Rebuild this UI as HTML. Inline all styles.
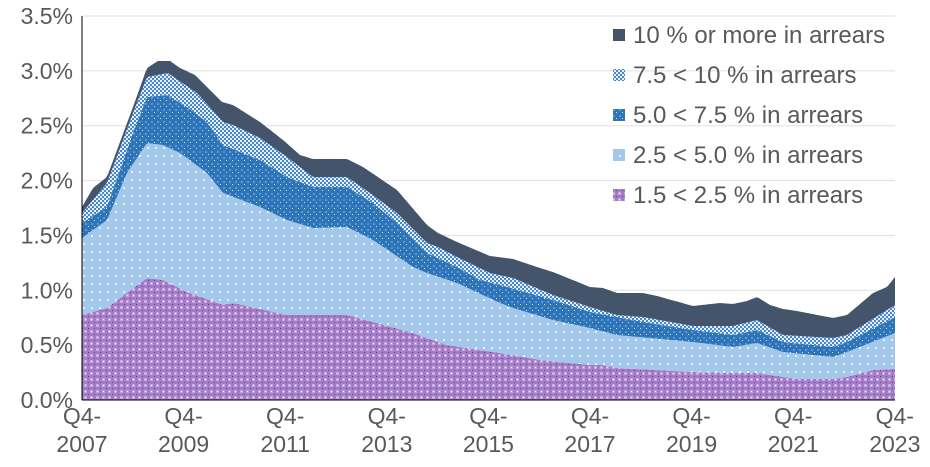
<!DOCTYPE html>
<html><head><meta charset="utf-8"><style>
body{margin:0;background:#fff;}
svg text{font-family:"Liberation Sans",Arial,sans-serif;fill:#595959;}
</style></head><body>
<svg id="c" width="930" height="462" xmlns="http://www.w3.org/2000/svg">
<defs>
<pattern id="pp" width="6" height="6" patternUnits="userSpaceOnUse"><rect width="6" height="6" fill="#a47cc6"/><rect x="0" y="0" width="3" height="3" fill="#c2a6dc"/><rect x="1" y="1" width="1" height="1" fill="#f0e8f8"/><rect x="4" y="4" width="1" height="1" fill="#6a3a9a"/></pattern>
<pattern id="pl" width="8" height="8" patternUnits="userSpaceOnUse"><rect width="8" height="8" fill="#a3c8ea"/><rect x="3" y="3" width="2" height="2" fill="#e6f0fa"/></pattern>
<pattern id="pd" width="6" height="6" patternUnits="userSpaceOnUse"><rect width="6" height="6" fill="#2e74b8"/><rect x="1" y="1" width="2" height="2" fill="#5f97d0"/><rect x="4" y="4" width="1" height="1" fill="#cfe0f4"/></pattern>
<pattern id="pc" width="4" height="4" patternUnits="userSpaceOnUse"><rect width="4" height="4" fill="#4a88cc"/><rect x="0" y="0" width="2" height="2" fill="#e3eef9"/><rect x="2" y="2" width="2" height="2" fill="#e3eef9"/></pattern>
</defs>
<g id="grid"></g>
<g id="areas"></g>
<line x1="82" y1="400" x2="895" y2="400" stroke="#000" stroke-width="1"/>
<line x1="82" y1="16" x2="82" y2="400" stroke="#000" stroke-width="1"/>
<g id="labels" font-size="23"></g>
<g font-size="24">
<rect x="613" y="29" width="12" height="12" fill="#44546a"/><text x="633" y="43">10 % or more in arrears</text>
<rect x="613" y="69" width="12" height="12" fill="url(#pc)"/><text x="633" y="83">7.5 &lt; 10 % in arrears</text>
<rect x="613" y="109" width="12" height="12" fill="url(#pd)"/><text x="633" y="123">5.0 &lt; 7.5 % in arrears</text>
<rect x="613" y="149" width="12" height="12" fill="url(#pl)"/><text x="633" y="163">2.5 &lt; 5.0 % in arrears</text>
<rect x="613" y="189" width="12" height="12" fill="url(#pp)"/><text x="633" y="203">1.5 &lt; 2.5 % in arrears</text>
</g>
</svg>
<script>
var NS="http://www.w3.org/2000/svg";
function el(t,a,p){var e=document.createElementNS(NS,t);for(var k in a)e.setAttribute(k,a[k]);document.getElementById(p).appendChild(e);return e;}
for(var i=0;i<=7;i++){var y=400-i*54.857;
 if(i>0)el('line',{x1:82,x2:895,y1:y,y2:y,stroke:'#e0e0e0'},'grid');
 var t=el('text',{x:73,y:y+8,'text-anchor':'end'},'labels');t.textContent=(i*0.5).toFixed(1)+'%';}
for(var q=0;q<=64;q+=8){var x=82+q*12.7;
 var a=el('text',{x:x,y:424,'text-anchor':'middle'},'labels');a.textContent='Q4-';
 var b=el('text',{x:x,y:452,'text-anchor':'middle'},'labels');b.textContent=(2007+q/4);}
var XS=[];for(var x=82;x<=895;x+=2)XS.push(x);XS.push(895);
function interp(d){return XS.map(function(x){for(var j=0;j<d.length-1;j++){if(x>=d[j][0]&&x<=d[j+1][0]){var f=(x-d[j][0])/(d[j+1][0]-d[j][0]||1);return d[j][1]+f*(d[j+1][1]-d[j][1]);}}return d[d.length-1][1];});}
var P=interp([[82,315],[107,308],[120,298],[147,278],[163,280],[187,292],[223,305],[233,303],[287,315],[347,315],[373,322],[413,333],[427,338],[447,345],[500,353],[540,360],[590,365],[603,365],[617,368],[693,372],[733,373],[757,373],[797,379],[833,379],[847,377],[873,370],[895,369]]);
var L=interp([[82,238],[107,220],[127,173],[147,143],[163,145],[180,153],[207,173],[223,193],[260,207],[287,220],[313,228],[347,227],[373,240],[413,267],[427,273],[457,283],[500,303],[513,308],[553,320],[590,328],[617,335],[693,342],[733,347],[757,343],[783,352],[833,357],[847,352],[895,333]]);
var D=interp([[82,223],[107,207],[133,133],[147,97],[167,95],[187,107],[207,122],[223,145],[260,160],[287,177],[313,187],[347,187],[373,203],[397,223],[427,253],[457,267],[480,280],[500,285],[553,300],[590,312],[643,322],[693,330],[733,335],[757,330],[783,342],[833,347],[847,342],[895,317]]);
var C=interp([[82,213],[107,183],[133,113],[147,77],[168,73],[197,93],[223,122],[233,125],[260,138],[287,157],[313,177],[347,177],[370,193],[397,213],[427,243],[438,247],[457,257],[490,273],[513,278],[553,295],[590,307],[617,315],[643,317],[693,326],[733,326],[757,320],[783,335],[833,338],[847,335],[895,305]]);
var T=interp([[82,207],[93,188],[107,177],[133,107],[147,68],[158,61],[170,61],[180,68],[195,75],[222,102],[233,105],[260,122],[283,140],[300,155],[313,159],[347,159],[363,167],[397,190],[427,225],[438,233],[457,242],[490,256],[513,259],[540,268],[553,272],[590,287],[603,288],[617,293],[643,293],[657,296],[693,306],[720,303],[733,304],[747,301],[757,297],[770,305],[783,309],[797,311],[833,318],[847,315],[873,293],[887,287],[895,277]]);
var base=XS.map(function(){return 400;});
function area(top,bot,fill){var s='';for(var i=0;i<XS.length;i++)s+=(i?'L':'M')+XS[i]+','+top[i].toFixed(1);for(var i=XS.length-1;i>=0;i--)s+='L'+XS[i]+','+bot[i].toFixed(1);el('path',{d:s+'Z',fill:fill},'areas');}
area(P,base,'url(#pp)');area(L,P,'url(#pl)');area(D,L,'url(#pd)');area(C,D,'url(#pc)');area(T,C,'#44546a');
</script>
</body></html>
